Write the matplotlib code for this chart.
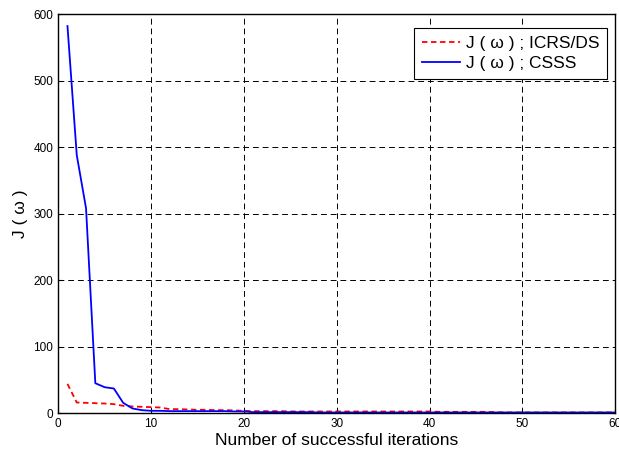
import matplotlib
matplotlib.use('Agg')
from matplotlib import pyplot as plt

plt.rcParams['font.family'] = ['Liberation Sans', 'DejaVu Sans']

# successful iteration index
iters = list(range(1, 61))

# J(w) for ICRS/DS (red dashed)
j_icrs = [44, 16, 15.5, 15, 14.5, 13.5, 11, 10, 9.5, 9,
          8.5, 6, 6, 5.5, 5, 5, 4.5, 4.5, 4, 3.5,
          3, 3, 3, 3, 2.5, 2.5, 2.5, 2.5, 2.5, 2.5,
          2.5, 2.5, 2.5, 2.5, 2.5, 2.5, 2.5, 2.5, 2.5, 2.5,
          2, 2, 2, 2, 2, 2, 1.5, 1, 1, 1,
          1, 1, 1, 1, 1, 1, 1, 1, 1, 1]

# J(w) for CSSS (blue solid)
j_csss = [582, 388, 308, 45, 39, 37, 15.5, 7, 4.5, 3.5,
          3.5, 3, 3, 3, 3, 3, 3, 3, 2.5, 2.5,
          1.5, 1.5, 1.5, 1.5, 1.5, 1.5, 1.5, 1, 1, 1,
          1, 1, 1, 1, 1, 1, 1, 1, 1, 1,
          1, 1, 1, 1, 1, 1, 1, 1, 1, 1,
          1, 1, 1, 1, 1, 1, 1, 1, 1, 1]

fig = plt.figure(figsize=(6.19, 4.54), dpi=100)
ax = fig.add_axes([0.094, 0.090, 0.900, 0.879])

ax.plot(iters, j_icrs, color='red', linestyle='--', linewidth=1.3, dashes=(3, 2),
        label='J ( \u03c9 ) ; ICRS/DS')
ax.plot(iters, j_csss, color='blue', linestyle='-', linewidth=1.3,
        label='J ( \u03c9 ) ; CSSS')

ax.set_xlim(0, 60)
ax.set_ylim(0, 600)
ax.set_xticks(range(0, 61, 10))
ax.set_yticks(range(0, 601, 100))
ax.grid(True, color='black', linestyle=(0, (6, 4)), linewidth=0.7)
ax.tick_params(direction='in', labelsize=8.5, length=3)
for sp in ax.spines.values():
    sp.set_linewidth(1.0)

ax.set_xlabel('Number of successful iterations', fontsize=12.5, labelpad=2)
ax.set_ylabel('J ( \u03c9 )', fontsize=12.5, labelpad=4)

leg = ax.legend(loc='upper right', bbox_to_anchor=(0.985, 0.965), fontsize=12.5,
                fancybox=False, framealpha=1, edgecolor='black', borderpad=0.45,
                handlelength=2.2, handletextpad=0.3, labelspacing=0.3,
                borderaxespad=0)
leg.get_frame().set_linewidth(0.8)

fig.savefig('out.png', dpi=100)
